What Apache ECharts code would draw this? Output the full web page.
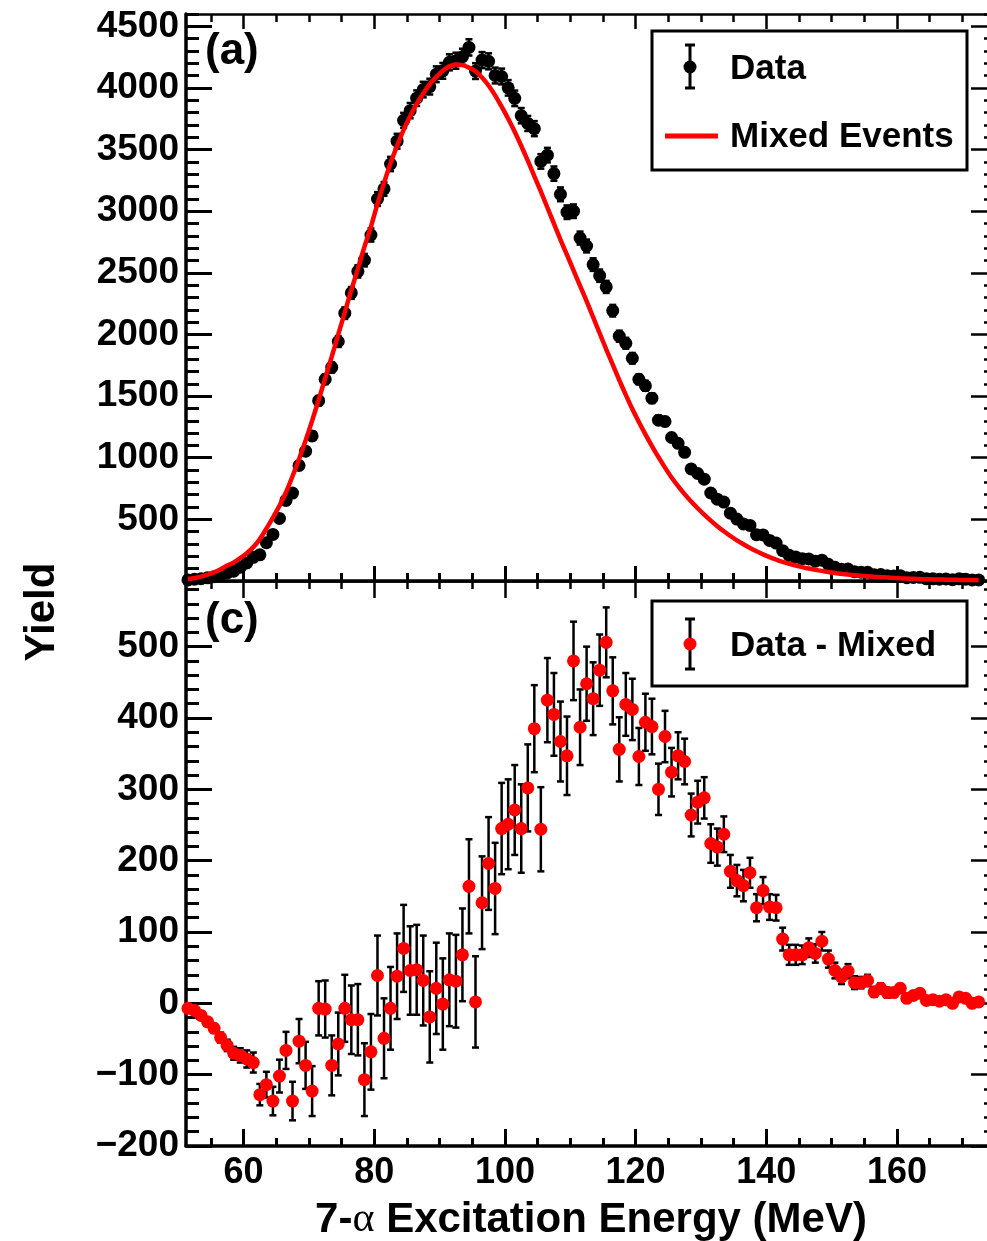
<!DOCTYPE html>
<html>
<head>
<meta charset="utf-8">
<script src="https://cdn.jsdelivr.net/npm/echarts@6/dist/echarts.min.js"></script>
<style>
  html, body { margin: 0; padding: 0; background: #fff; }
  #chart { width: 987px; height: 1241px; }
</style>
</head>
<body>
<div id="chart"></div>
<script>
// ---------------- DATA ----------------
// bin centres (MeV)
const energy = [
  51.5,52.5,53.5,54.5,55.5,56.5,57.5,58.5,59.5,60.5,
  61.5,62.5,63.5,64.5,65.5,66.5,67.5,68.5,69.5,70.5,
  71.5,72.5,73.5,74.5,75.5,76.5,77.5,78.5,79.5,80.5,
  81.5,82.5,83.5,84.5,85.5,86.5,87.5,88.5,89.5,90.5,
  91.5,92.5,93.5,94.5,95.5,96.5,97.5,98.5,99.5,100.5,
  101.5,102.5,103.5,104.5,105.5,106.5,107.5,108.5,109.5,110.5,
  111.5,112.5,113.5,114.5,115.5,116.5,117.5,118.5,119.5,120.5,
  121.5,122.5,123.5,124.5,125.5,126.5,127.5,128.5,129.5,130.5,
  131.5,132.5,133.5,134.5,135.5,136.5,137.5,138.5,139.5,140.5,
  141.5,142.5,143.5,144.5,145.5,146.5,147.5,148.5,149.5,150.5,
  151.5,152.5,153.5,154.5,155.5,156.5,157.5,158.5,159.5,160.5,
  161.5,162.5,163.5,164.5,165.5,166.5,167.5,168.5,169.5,170.5,
  171.5,172.5
];
// panel (a): measured yield
const dataYield = [
  9,14,19,26,35,47,66,80,112,147,
  192,212,311,378,508,654,713,937,1053,1177,
  1463,1637,1733,1943,2173,2337,2512,2603,2807,3099,
  3181,3383,3568,3737,3816,3917,3987,4011,4111,4139,
  4208,4221,4253,4329,4137,4226,4216,4101,4093,4001,
  3916,3775,3712,3670,3404,3455,3305,3137,2992,3000,
  2782,2718,2567,2477,2386,2193,1986,1929,1807,1636,
  1584,1483,1305,1294,1164,1117,1044,909,872,826,
  714,664,640,550,502,463,451,375,374,329,
  308,246,208,194,181,179,161,169,135,111,
  95,97,76,71,70,50,52,43,40,43,
  27,29,30,18,18,15,16,10,18,15,
  8,9
];
// panel (a): mixed events
const mixedYield = [
  16,24,36,52,70,95,125,150,185,225,
  275,340,425,515,610,720,850,990,1140,1300,
  1470,1645,1820,2000,2180,2360,2535,2710,2875,3060,
  3230,3390,3530,3660,3770,3870,3955,4030,4090,4140,
  4175,4190,4185,4165,4135,4085,4020,3940,3848,3750,
  3645,3530,3410,3285,3160,3030,2900,2770,2645,2520,
  2395,2270,2140,2010,1880,1755,1630,1510,1395,1290,
  1190,1095,1005,920,840,770,705,645,590,538,
  490,445,403,365,330,298,268,241,216,194,
  174,156,140,126,113,101,91,82,73,65,
  58,52,47,42,38,34,31,28,25,22,
  20,18,16,14,13,12,11,10,9,8,
  8,7
];
// panel (c): data - mixed
const diffYield = [
  -7,-10,-17,-26,-35,-48,-59,-70,-73,-78,
  -83,-128,-114,-137,-102,-66,-137,-53,-87,-123,
  -7,-8,-87,-57,-7,-23,-23,-107,-68,39,
  -49,-7,38,77,46,47,32,-19,21,-1,
  33,31,68,164,2,141,196,161,245,251,
  271,245,302,385,244,425,405,367,347,480,
  387,448,427,467,506,438,356,419,412,346,
  394,388,300,374,324,347,339,264,282,288,
  224,219,237,185,172,165,183,134,158,135,
  134,90,68,68,68,78,70,87,62,46,
  37,45,29,29,32,16,21,15,15,21,
  7,11,14,4,5,3,5,0,9,7,
  0,2
];
// statistical errors (both panels)
const errYield = [
  3,4,4,5,6,7,8,9,10,12,
  14,15,18,20,23,26,27,31,33,35,
  38,40,42,44,47,48,50,51,53,56,
  56,58,60,61,62,63,63,64,64,64,
  65,65,65,66,64,65,65,64,64,63,
  63,62,61,61,59,59,58,56,55,55,
  53,52,51,50,49,47,45,44,43,40,
  40,39,36,36,34,33,32,30,30,29,
  27,26,25,23,22,22,21,19,19,18,
  18,16,14,14,13,13,13,13,12,11,
  10,10,9,8,8,7,7,7,6,6,
  5,5,5,4,4,4,4,3,4,4,
  3,3
];
// tick labels
const xTickLabels = [60, 80, 100, 120, 140, 160];
const topYTickLabels = [500, 1000, 1500, 2000, 2500, 3000, 3500, 4000, 4500];
const botYTickLabels = [-200, -100, 0, 100, 200, 300, 400, 500];

// ---------------- LAYOUT ----------------
const X_MIN = 51.2, X_MAX = 175.3;
const TOP_Y = [0, 4600], BOT_Y = [-200, 592];
const FONT = "'Liberation Sans', Arial, Helvetica, sans-serif";

function range(a, b, s) { const r = []; for (let v = a; v <= b + 1e-9; v += s) r.push(+v.toFixed(6)); return r; }
const xMinor = range(55, 175, 5);
const topYMinor = range(100, 4600, 100);
const botYMinor = range(-180, 580, 20);

function xAxes(gridIndex, showLabels, majLen, minLen) {
  const c = { type: 'value', gridIndex, min: X_MIN, max: X_MAX, splitLine: { show: false } };
  return [
    Object.assign({}, c, { position: 'bottom',
      axisLine: { show: true, onZero: false, lineStyle: { color: '#000', width: 3.5 } },
      axisTick: { show: true, inside: true, length: majLen, customValues: xTickLabels, lineStyle: { color: '#000', width: 3 } },
      axisLabel: { show: showLabels, customValues: xTickLabels, margin: 9, color: '#000', fontFamily: FONT, fontWeight: 'bold', fontSize: 36 } }),
    Object.assign({}, c, { position: 'bottom',
      axisLine: { show: false, onZero: false },
      axisTick: { show: true, inside: true, length: minLen, customValues: xMinor, lineStyle: { color: '#000', width: 3 } },
      axisLabel: { show: false } }),
    Object.assign({}, c, { position: 'top',
      axisLine: { show: true, onZero: false, lineStyle: { color: '#000', width: 2.5 } },
      axisTick: { show: true, inside: true, length: majLen, customValues: xTickLabels, lineStyle: { color: '#000', width: 2.5 } },
      axisLabel: { show: false } }),
    Object.assign({}, c, { position: 'top',
      axisLine: { show: false, onZero: false },
      axisTick: { show: true, inside: true, length: minLen, customValues: xMinor, lineStyle: { color: '#000', width: 2.5 } },
      axisLabel: { show: false } })
  ];
}
function yAxes(gridIndex, rng, majors, minors, fmt) {
  const c = { type: 'value', gridIndex, min: rng[0], max: rng[1], splitLine: { show: false } };
  return [
    Object.assign({}, c, { position: 'left',
      axisLine: { show: true, onZero: false, lineStyle: { color: '#000', width: 3.5 } },
      axisTick: { show: true, inside: true, length: 26, customValues: majors, lineStyle: { color: '#000', width: 3 } },
      axisLabel: { show: true, customValues: majors, margin: 7, color: '#000', fontFamily: FONT, fontWeight: 'bold', fontSize: 37, formatter: fmt } }),
    Object.assign({}, c, { position: 'left',
      axisLine: { show: false, onZero: false },
      axisTick: { show: true, inside: true, length: 13, customValues: minors, lineStyle: { color: '#000', width: 3 } },
      axisLabel: { show: false } }),
    Object.assign({}, c, { position: 'right',
      axisLine: { show: true, onZero: false, lineStyle: { color: '#000', width: 2.5 } },
      axisTick: { show: true, inside: true, length: 26, customValues: majors, lineStyle: { color: '#000', width: 2.5 } },
      axisLabel: { show: false } }),
    Object.assign({}, c, { position: 'right',
      axisLine: { show: false, onZero: false },
      axisTick: { show: true, inside: true, length: 13, customValues: minors, lineStyle: { color: '#000', width: 2.5 } },
      axisLabel: { show: false } })
  ];
}

function errRender(params, api) {
  const x = api.value(0), y = api.value(1), e = api.value(2);
  const t = api.coord([x, y + e]);
  const b = api.coord([x, y - e]);
  const cw = 3.5;
  const st = { stroke: '#000', lineWidth: 2.5 };
  return { type: 'group', children: [
    { type: 'line', shape: { x1: t[0], y1: t[1], x2: b[0], y2: b[1] }, style: st },
    { type: 'line', shape: { x1: t[0] - cw, y1: t[1], x2: t[0] + cw, y2: t[1] }, style: st },
    { type: 'line', shape: { x1: b[0] - cw, y1: b[1], x2: b[0] + cw, y2: b[1] }, style: st }
  ]};
}

const topPts = energy.map((e, i) => [e, dataYield[i], errYield[i]]);
const mixPts = energy.map((e, i) => [e, mixedYield[i]]);
const botPts = energy.map((e, i) => [e, diffYield[i], errYield[i]]);
const minusFmt = v => (v < 0 ? '\u2212' + Math.abs(v) : String(v));

const chart = echarts.init(document.getElementById('chart'), null, { renderer: 'canvas' });
chart.setOption({
  animation: false,
  backgroundColor: '#fff',
  grid: [
    { left: 186, right: -10, top: 14, height: 567, containLabel: false, outerBoundsMode: 'none' },
    { left: 186, right: -10, top: 581, height: 565, containLabel: false, outerBoundsMode: 'none' }
  ],
  xAxis: [].concat(xAxes(0, false, 15, 8), xAxes(1, true, 17, 8)),
  yAxis: [].concat(yAxes(0, TOP_Y, topYTickLabels, topYMinor, v => String(v)),
                   yAxes(1, BOT_Y, botYTickLabels, botYMinor, minusFmt)),
  series: [
    { type: 'custom', name: 'Data err', xAxisIndex: 0, yAxisIndex: 0, data: topPts, renderItem: errRender, clip: true, z: 2 },
    { type: 'scatter', name: 'Data', xAxisIndex: 0, yAxisIndex: 0, data: topPts.map(p => [p[0], p[1]]),
      symbol: 'circle', symbolSize: 13, itemStyle: { color: '#000', opacity: 1 }, z: 3 },
    { type: 'line', name: 'Mixed Events', xAxisIndex: 0, yAxisIndex: 0, data: mixPts, showSymbol: false, smooth: 0.3,
      lineStyle: { color: '#ff0000', width: 4.5 }, z: 5 },
    { type: 'custom', name: 'Diff err', xAxisIndex: 4, yAxisIndex: 4, data: botPts, renderItem: errRender, clip: true, z: 2 },
    { type: 'scatter', name: 'Data - Mixed', xAxisIndex: 4, yAxisIndex: 4, data: botPts.map(p => [p[0], p[1]]),
      symbol: 'circle', symbolSize: 13, itemStyle: { color: '#ff0000', opacity: 1 }, z: 3 }
  ],
  graphic: [
    // panel labels
    { type: 'text', left: 205, top: 30, style: { text: '(a)', fill: '#000', font: 'bold 44px ' + FONT } },
    { type: 'text', left: 205, top: 599, style: { text: '(c)', fill: '#000', font: 'bold 44px ' + FONT } },
    // y title
    { type: 'text', x: 42, y: 612, rotation: Math.PI / 2, style: { text: 'Yield', fill: '#000', font: 'bold 42px ' + FONT, align: 'center', verticalAlign: 'middle' } },
    // x title
    { type: 'text', x: 591, y: 1220, style: {
        text: '{a|7-}{b|\u03b1}{a| Excitation Energy (MeV)}', align: 'center', verticalAlign: 'middle',
        rich: { a: { fontFamily: FONT, fontWeight: 'bold', fontSize: 42, fill: '#000' },
                b: { fontFamily: "'Liberation Serif', serif", fontWeight: 'normal', fontSize: 42, fill: '#000' } } } },
    // top legend
    { type: 'rect', shape: { x: 652, y: 31, width: 315, height: 139 }, style: { fill: '#fff', stroke: '#000', lineWidth: 3 }, z: 10 },
    { type: 'line', shape: { x1: 690, y1: 45, x2: 690, y2: 88 }, style: { stroke: '#000', lineWidth: 3 }, z: 11 },
    { type: 'line', shape: { x1: 685, y1: 45, x2: 695, y2: 45 }, style: { stroke: '#000', lineWidth: 3 }, z: 11 },
    { type: 'line', shape: { x1: 685, y1: 88, x2: 695, y2: 88 }, style: { stroke: '#000', lineWidth: 3 }, z: 11 },
    { type: 'circle', shape: { cx: 690, cy: 67, r: 6.5 }, style: { fill: '#000' }, z: 11 },
    { type: 'text', x: 730, y: 69, style: { text: 'Data', fill: '#000', font: 'bold 35px ' + FONT, verticalAlign: 'middle' }, z: 11 },
    { type: 'line', shape: { x1: 665, y1: 136, x2: 718, y2: 136 }, style: { stroke: '#ff0000', lineWidth: 5 }, z: 11 },
    { type: 'text', x: 730, y: 137, style: { text: 'Mixed Events', fill: '#000', font: 'bold 35px ' + FONT, verticalAlign: 'middle' }, z: 11 },
    // bottom legend
    { type: 'rect', shape: { x: 652, y: 601, width: 315, height: 85 }, style: { fill: '#fff', stroke: '#000', lineWidth: 3 }, z: 10 },
    { type: 'line', shape: { x1: 690, y1: 619, x2: 690, y2: 669 }, style: { stroke: '#000', lineWidth: 3 }, z: 11 },
    { type: 'line', shape: { x1: 685, y1: 619, x2: 695, y2: 619 }, style: { stroke: '#000', lineWidth: 3 }, z: 11 },
    { type: 'line', shape: { x1: 685, y1: 669, x2: 695, y2: 669 }, style: { stroke: '#000', lineWidth: 3 }, z: 11 },
    { type: 'circle', shape: { cx: 690, cy: 644, r: 6.5 }, style: { fill: '#ff0000' }, z: 11 },
    { type: 'text', x: 730, y: 646, style: { text: 'Data - Mixed', fill: '#000', font: 'bold 35px ' + FONT, verticalAlign: 'middle' }, z: 11 }
  ]
});
</script>
</body>
</html>
